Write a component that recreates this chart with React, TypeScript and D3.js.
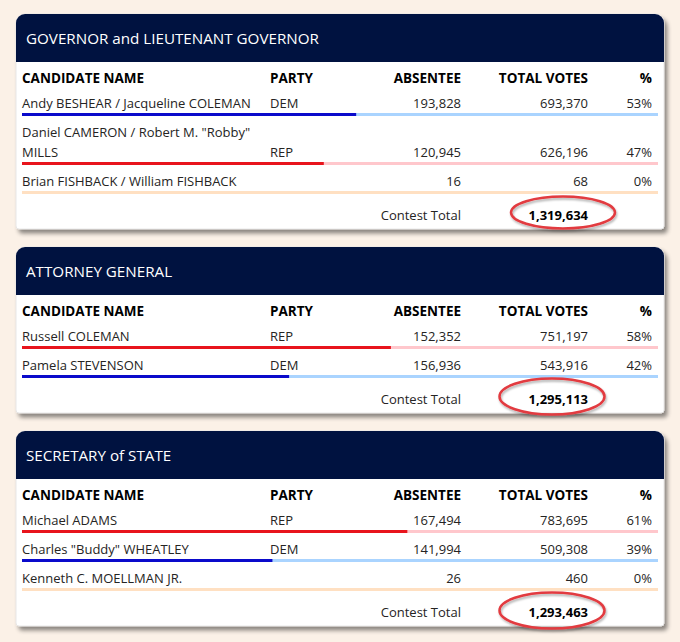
import React from "react";
import * as d3 from "d3";

// ---------- DATA ----------
const contestTitles = [
  "GOVERNOR and LIEUTENANT GOVERNOR",
  "ATTORNEY GENERAL",
  "SECRETARY of STATE",
];
const governorNames = [
  "Andy BESHEAR / Jacqueline COLEMAN",
  'Daniel CAMERON / Robert M. "Robby" MILLS',
  "Brian FISHBACK / William FISHBACK",
];
const governorParties = ["DEM", "REP", ""];
const governorAbsentee = [193828, 120945, 16];
const governorVotes = [693370, 626196, 68];

const attorneyNames = ["Russell COLEMAN", "Pamela STEVENSON"];
const attorneyParties = ["REP", "DEM"];
const attorneyAbsentee = [152352, 156936];
const attorneyVotes = [751197, 543916];

const secretaryNames = [
  "Michael ADAMS",
  'Charles "Buddy" WHEATLEY',
  "Kenneth C. MOELLMAN JR.",
];
const secretaryParties = ["REP", "DEM", ""];
const secretaryAbsentee = [167494, 141994, 26];
const secretaryVotes = [783695, 509308, 460];

const columnHeaders = ["CANDIDATE NAME", "PARTY", "ABSENTEE", "TOTAL VOTES", "%"];
const totalLabel = "Contest Total";

// ---------- STYLE ----------
const FONT = "'Open Sans', 'Noto Sans', sans-serif";
const W = 680;
const H = 642;
const BG = "#FBF1E7";
const HEADER_BG = "#001240";
const TEXT = "#252423";
const partyDark: Record<string, string> = { DEM: "#0A0ACB", REP: "#E8141C", "": "#FFE0C2" };
const partyLight: Record<string, string> = { DEM: "#AAD4FF", REP: "#FFC7CC", "": "#FFE0C2" };

const CARD_X0 = 16;
const CARD_X1 = 664;
const TOP0 = 14;
const HEADER_H = 48;
const GAP = 18;
const COL_X = [22, 270, 461, 588, 652];
const BAR_X0 = 22;
const BAR_X1 = 658;
const NAME_MAX_W = 240;
const BODY_SIZE = 13;
const HEAD_SIZE = 13.5;
const TITLE_SIZE = 15.2;

// ellipse annotation offsets (relative to contest total right edge / baseline)
const ellipseDx = [-25, -36, -36];
const ellipseDy = [-7, -7, -6];
const ellipseRx = [52, 52.5, 52.5];
const ellipseRy = [16, 18, 18];

const fmtInt = d3.format(",");
const fmtPct = d3.format(".0%");

function wrap(text: string, maxW: number): string[] {
  const canvas = document.createElement("canvas");
  const ctx = canvas.getContext("2d")!;
  ctx.font = `${BODY_SIZE}px ${FONT}`;
  const words = text.split(" ");
  const lines: string[] = [];
  let cur = "";
  for (const w of words) {
    const test = cur ? cur + " " + w : w;
    if (ctx.measureText(test).width > maxW && cur) {
      lines.push(cur);
      cur = w;
    } else cur = test;
  }
  if (cur) lines.push(cur);
  return lines;
}

type Contest = {
  title: string;
  names: string[];
  parties: string[];
  absentee: number[];
  votes: number[];
};

const contests: Contest[] = [
  { title: contestTitles[0], names: governorNames, parties: governorParties, absentee: governorAbsentee, votes: governorVotes },
  { title: contestTitles[1], names: attorneyNames, parties: attorneyParties, absentee: attorneyAbsentee, votes: attorneyVotes },
  { title: contestTitles[2], names: secretaryNames, parties: secretaryParties, absentee: secretaryAbsentee, votes: secretaryVotes },
];

function cardPath(x0: number, y0: number, x1: number, y1: number, rt: number, rb: number) {
  const p = d3.path();
  p.moveTo(x0 + rt, y0);
  p.lineTo(x1 - rt, y0);
  p.arcTo(x1, y0, x1, y0 + rt, rt);
  p.lineTo(x1, y1 - rb);
  p.arcTo(x1, y1, x1 - rb, y1, rb);
  p.lineTo(x0 + rb, y1);
  p.arcTo(x0, y1, x0, y1 - rb, rb);
  p.lineTo(x0, y0 + rt);
  p.arcTo(x0, y0, x0 + rt, y0, rt);
  p.closePath();
  return p.toString();
}

export default function App() {
  const x = d3.scaleLinear().domain([0, 1]).range([BAR_X0, BAR_X1]);

  let top = TOP0;
  const cards = contests.map((c, ci) => {
    const total = d3.sum(c.votes);
    const headerBottom = top + HEADER_H;
    const colY = headerBottom + 21;
    let baseline = colY + 25;
    const rows = c.names.map((name, i) => {
      const lines = wrap(name, NAME_MAX_W);
      const firstBaseline = baseline;
      const lastBaseline = firstBaseline + (lines.length - 1) * 20;
      const barY = lastBaseline + 6.5;
      baseline = barY + 22.5;
      return { name, lines, firstBaseline, lastBaseline, barY, i };
    });
    const lastBar = rows[rows.length - 1].barY;
    const totalY = lastBar + 27;
    const bottom = totalY + 9.5;
    const card = { c, ci, top, headerBottom, colY, rows, total, totalY, bottom };
    top = bottom + GAP;
    return card;
  });

  return (
    <svg
      width={W}
      height={H}
      style={{ position: "absolute", left: 0, top: 0, fontFamily: FONT }}
    >
      <defs>
        <filter id="cardShadow" x="-5%" y="-5%" width="112%" height="125%">
          <feDropShadow dx="3" dy="4" stdDeviation="2" floodColor="#000" floodOpacity="0.45" />
        </filter>
        <filter id="ellShadow" x="-20%" y="-30%" width="140%" height="170%">
          <feDropShadow dx="1" dy="2" stdDeviation="1.2" floodColor="#000" floodOpacity="0.3" />
        </filter>
      </defs>
      <rect width={W} height={H} fill={BG} />
      {cards.map((card) => (
        <g key={card.ci}>
          <path
            d={cardPath(CARD_X0, card.top, CARD_X1, card.bottom, 9, 3)}
            fill="#fff"
            stroke="#e2e2e2"
            strokeWidth={0.8}
            filter="url(#cardShadow)"
          />
          <path
            d={(() => {
              const p = d3.path();
              const r = 9;
              p.moveTo(CARD_X0, card.headerBottom);
              p.lineTo(CARD_X0, card.top + r);
              p.arcTo(CARD_X0, card.top, CARD_X0 + r, card.top, r);
              p.lineTo(CARD_X1 - r, card.top);
              p.arcTo(CARD_X1, card.top, CARD_X1, card.top + r, r);
              p.lineTo(CARD_X1, card.headerBottom);
              p.closePath();
              return p.toString();
            })()}
            fill={HEADER_BG}
          />
          <text x={26} y={card.top + 29.5} fill="#fff" fontSize={TITLE_SIZE}>
            {card.c.title}
          </text>
          {columnHeaders.map((h, i) => (
            <text
              key={h}
              x={COL_X[i]}
              y={card.colY}
              fontSize={HEAD_SIZE}
              fontWeight={700}
              fill="#000"
              textAnchor={i >= 2 ? "end" : "start"}
            >
              {h}
            </text>
          ))}
          {card.rows.map((r) => {
            const party = card.c.parties[r.i];
            const share = card.c.votes[r.i] / card.total;
            return (
              <g key={r.i}>
                {r.lines.map((ln, li) => (
                  <text key={li} x={COL_X[0]} y={r.firstBaseline + li * 20} fontSize={BODY_SIZE} fill={TEXT}>
                    {ln}
                  </text>
                ))}
                <text x={COL_X[1]} y={r.lastBaseline} fontSize={BODY_SIZE} fill={TEXT}>
                  {party}
                </text>
                <text x={COL_X[2]} y={r.lastBaseline} fontSize={BODY_SIZE} fill={TEXT} textAnchor="end">
                  {fmtInt(card.c.absentee[r.i])}
                </text>
                <text x={COL_X[3]} y={r.lastBaseline} fontSize={BODY_SIZE} fill={TEXT} textAnchor="end">
                  {fmtInt(card.c.votes[r.i])}
                </text>
                <text x={COL_X[4]} y={r.lastBaseline} fontSize={BODY_SIZE} fill={TEXT} textAnchor="end">
                  {fmtPct(share)}
                </text>
                <rect x={x(0)} y={r.barY - 1.5} width={x(1) - x(0)} height={3} fill={partyLight[party]} />
                <rect x={x(0)} y={r.barY - 1.5} width={x(share) - x(0)} height={3} fill={partyDark[party]} />
              </g>
            );
          })}
          <text x={COL_X[2]} y={card.totalY} fontSize={BODY_SIZE} fill={TEXT} textAnchor="end">
            {totalLabel}
          </text>
          <text x={COL_X[3]} y={card.totalY} fontSize={BODY_SIZE} fontWeight={700} fill="#000" textAnchor="end">
            {fmtInt(card.total)}
          </text>
        </g>
      ))}
      {cards.map((card) => (
        <ellipse
          key={"e" + card.ci}
          cx={COL_X[3] + ellipseDx[card.ci]}
          cy={card.totalY + ellipseDy[card.ci]}
          rx={ellipseRx[card.ci]}
          ry={ellipseRy[card.ci]}
          fill="none"
          stroke="#E23A3F"
          strokeWidth={2.5}
          filter="url(#ellShadow)"
        />
      ))}
    </svg>
  );
}
